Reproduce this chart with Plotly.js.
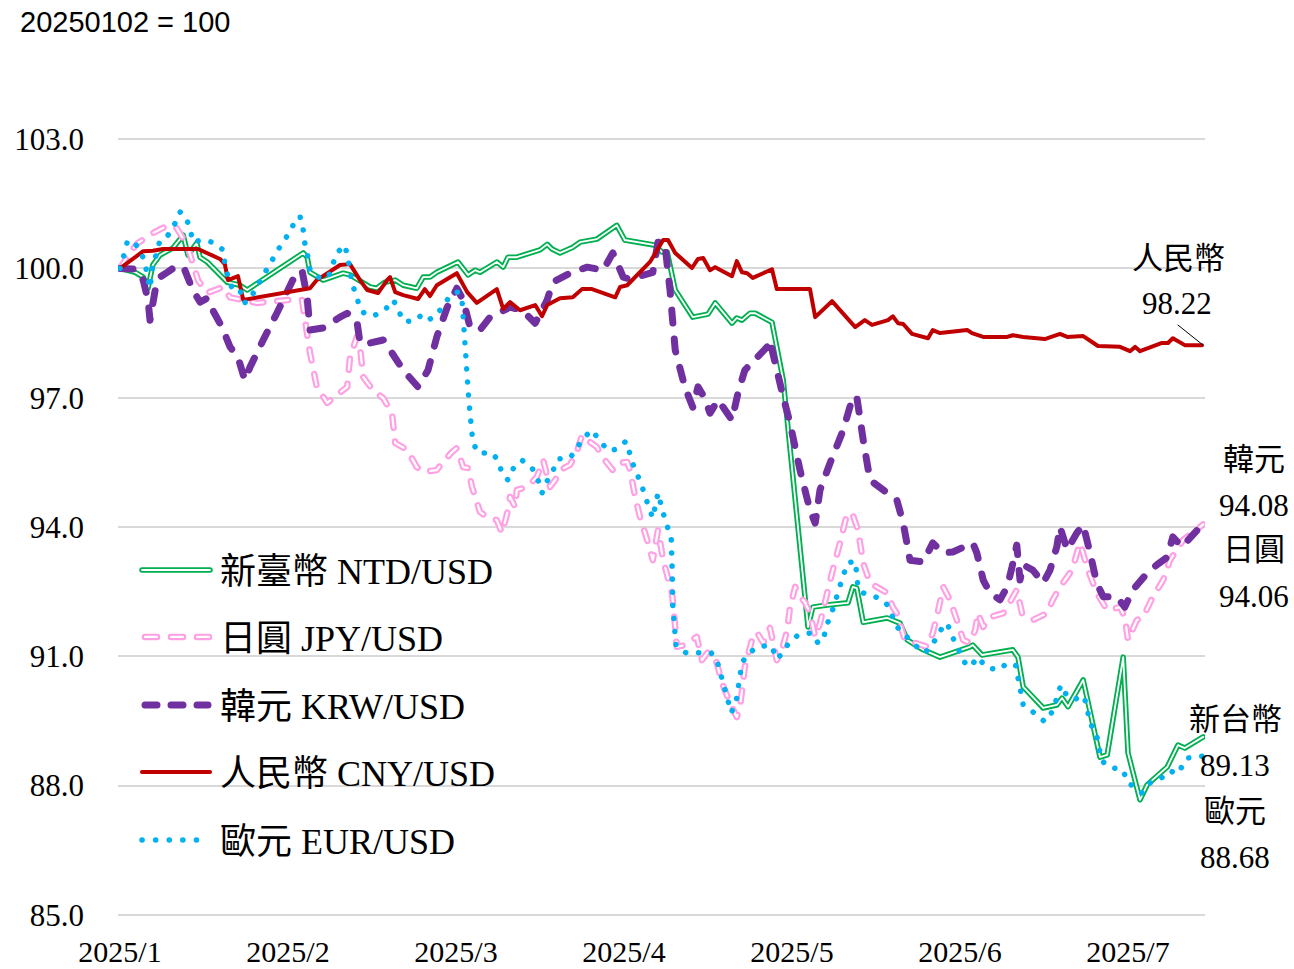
<!DOCTYPE html>
<html><head><meta charset="utf-8">
<script src="https://cdn.plot.ly/plotly-3.0.1.min.js"></script>
<style>
html,body{margin:0;padding:0;background:#fff;}
#chart{width:1294px;height:969px;}
.scatterlayer .js-line{stroke-linecap:round !important;stroke-linejoin:round !important;}
.shapelayer path{stroke-linecap:round !important;}
</style>
</head><body><div id="chart"></div>
<script>
// x = trading-day index (21 per month tick), y = index (20250102 = 100)
const monthTicks = [0, 21, 42, 63, 84, 105, 126];
const monthLabels = ['2025/1','2025/2','2025/3','2025/4','2025/5','2025/6','2025/7'];
const yTicks = [85, 88, 91, 94, 97, 100, 103];

const ntd = [[0,100],[1.9,99.91],[2.9,99.80],[3.5,99.54],[4.1,100.08],[5,100.31],[6.6,100.47],[7.9,100.77],[8.5,100.31],[9.6,100.59],[10,100.26],[10.9,100.15],[13.4,99.68],[15,99.61],[15.9,99.50],[22.9,100.36],[23.4,100.26],[23.75,99.91],[25.4,99.73],[27.9,99.89],[28.75,99.85],[31.25,99.57],[32.1,99.54],[33.1,99.68],[34.4,99.73],[35.4,99.61],[37.1,99.54],[37.9,99.80],[38.75,99.80],[39.6,99.91],[42.25,100.15],[43.5,99.85],[44.4,99.96],[45,99.91],[47.1,100.15],[47.9,100.03],[48.5,100.26],[49.6,100.26],[51.6,100.38],[52.5,100.43],[53.4,100.56],[54,100.45],[55,100.36],[56.6,100.49],[57.5,100.61],[59.6,100.68],[62.1,101.0],[63.1,100.66],[66.9,100.54],[67.75,100.38],[68.4,100.38],[69.4,99.50],[71.6,98.87],[73.5,98.94],[74.4,99.20],[76.5,98.73],[77.1,98.85],[77.75,98.80],[78.75,98.96],[79.4,98.96],[81.5,98.75],[82.9,97.41],[86,91.68],[86.6,92.14],[88.4,92.19],[91,92.24],[91.6,92.61],[92.1,92.58],[92.9,91.79],[95.9,91.89],[97.5,91.77],[98.4,91.38],[100.4,91.15],[102.5,90.98],[106.25,91.22],[106.6,91.26],[107.75,91.03],[111.6,91.15],[112.25,90.98],[112.9,90.29],[115.4,89.80],[117.1,89.87],[117.75,90.03],[118.5,89.83],[120.4,90.45],[122.5,88.66],[123.4,88.71],[125.4,90.98],[126,88.76],[127.5,87.67],[128.4,88.02],[130.9,88.43],[132.25,88.94],[133.1,88.87],[135.4,89.13]];

const jpy = [[0,100],[1.25,100.38],[2.25,100.59],[4.1,100.82],[6,101.0],[7.1,100.93],[8.4,100.54],[9.1,100.12],[9.75,99.73],[10.9,99.43],[12.9,99.57],[13.75,99.33],[17.1,99.20],[21.25,99.27],[22.75,99.27],[23.75,98.04],[24.6,97.25],[25.9,96.88],[27.1,97.06],[28.4,97.25],[28.75,97.94],[29.6,98.41],[30,98.18],[30.4,97.48],[31.6,97.18],[32.9,96.99],[34,96.64],[34.4,95.95],[35.9,95.79],[37.1,95.39],[37.9,95.28],[39.6,95.32],[40.25,95.48],[41.5,95.74],[42.1,95.83],[42.9,95.39],[43.5,95.37],[44,94.93],[44.4,94.70],[45,94.35],[45.9,94.23],[47.1,94.16],[47.75,93.86],[48.4,94.32],[48.75,94.70],[49.4,94.46],[49.6,94.86],[50.9,94.93],[52.1,95.16],[52.9,95.55],[53.75,94.93],[54.4,95.09],[55,95.32],[56.25,95.44],[57.1,95.74],[57.75,96.13],[58.75,95.97],[59.6,95.86],[60.4,95.60],[61.6,95.32],[62.25,95.48],[63.4,95.51],[63.75,95.32],[64.4,94.70],[65,94.23],[65.9,93.70],[66.6,93.23],[67.25,93.93],[67.9,93.23],[69,92.47],[69.4,91.68],[69.6,91.22],[70.6,91.26],[72.1,91.45],[72.75,90.91],[73.5,91.10],[74.6,90.85],[75.25,90.38],[76.25,89.92],[77.1,89.59],[77.5,89.82],[78.1,90.75],[79,91.38],[79.6,91.56],[80.4,91.31],[81.25,91.66],[82.1,90.91],[82.75,91.15],[83.4,91.61],[83.75,92.14],[84.4,92.61],[85,92.38],[85.6,92.26],[86.25,92.0],[86.9,91.45],[87.5,91.77],[88.4,92.47],[89.1,93.0],[90,93.63],[90.9,94.32],[91.6,94.28],[92.25,93.93],[92.9,93.16],[93.75,92.70],[95.9,92.47],[96.6,92.14],[97.1,92.0],[98.1,91.38],[99.4,91.31],[100.9,91.22],[101.6,91.54],[102.1,91.91],[102.9,92.61],[103.75,92.31],[104.6,91.84],[105.4,91.38],[106.25,91.31],[106.9,91.61],[107.25,92.0],[107.9,91.68],[108.75,91.91],[110.4,92.0],[111.25,92.26],[112.1,92.54],[112.75,92.0],[114.1,91.84],[115.9,92.0],[116.6,92.31],[117.5,92.61],[118.4,92.84],[119,93.0],[120,93.63],[121,93.0],[122.1,92.47],[123.4,92.07],[125,92.14],[125.6,91.91],[126,91.38],[127.1,91.84],[127.9,91.91],[129.1,92.38],[130.4,92.77],[131.25,93.23],[132.1,93.47],[132.9,93.70],[135.4,94.06]];

const krw = [[0,100],[2.1,99.98],[2.9,99.73],[3.5,99.27],[3.75,98.80],[4.4,99.50],[5,99.80],[5.9,99.91],[7.25,100.08],[8.1,99.96],[9.1,99.50],[10,99.22],[10.9,99.31],[11.6,99.03],[12.75,98.64],[13.75,98.18],[14.75,97.94],[15.6,97.41],[16.25,97.71],[17.9,98.34],[19.6,98.96],[21.6,99.73],[22.75,99.96],[23.4,99.33],[23.75,98.57],[25.4,98.62],[27.5,98.87],[28.4,98.96],[29.6,98.80],[30,98.27],[31.25,98.27],[32.9,98.34],[33.75,98.11],[35.4,97.64],[37.25,97.25],[38.5,97.64],[39.6,98.41],[40.9,99.10],[42.1,99.54],[42.9,99.27],[43.75,98.64],[45,98.57],[46.25,98.87],[48.75,99.10],[50.25,99.03],[51.9,98.73],[53.4,99.27],[54.1,99.68],[56.25,99.89],[58.4,100.03],[60.4,99.96],[61.6,100.36],[62.9,99.80],[63.75,99.75],[66.6,99.91],[67.25,100.61],[68.1,100.59],[68.75,99.50],[69.4,98.11],[70.6,97.25],[71.6,96.78],[72.25,97.25],[73.1,96.99],[73.75,96.64],[74.75,96.95],[76.5,96.48],[77.25,97.11],[78.1,97.64],[80.9,98.18],[81.25,98.34],[81.6,98.04],[82.9,97.02],[83.75,96.41],[85,95.32],[86.25,94.39],[86.9,94.09],[87.5,94.86],[88.75,95.48],[90.4,96.25],[91.6,97.02],[92.1,97.02],[92.9,96.02],[93.75,95.09],[95.9,94.79],[97.1,94.63],[97.9,94.09],[98.75,93.23],[100.4,93.19],[101.6,93.63],[102.9,93.40],[104.1,93.42],[106.6,93.63],[107.1,93.40],[107.9,92.77],[108.75,92.47],[110,92.31],[110.9,92.61],[111.5,93.07],[112.1,93.58],[112.5,92.77],[112.9,93.12],[114.1,93.0],[115.4,92.70],[116.25,93.0],[117.1,93.54],[117.5,94.0],[118.4,93.47],[119.6,93.86],[120.4,94.05],[121.25,93.40],[122.1,92.70],[122.9,92.38],[124.6,92.38],[125.6,92.14],[126.6,92.54],[128.4,92.93],[129.6,93.12],[130.9,93.30],[131.6,93.77],[132.75,93.54],[135.4,94.08]];

const cny = [[0,100],[2.9,100.40],[4.1,100.41],[5.4,100.45],[9.75,100.45],[12.5,100.22],[13.1,100.10],[13.5,99.73],[14.75,99.82],[15.4,99.27],[23.75,99.54],[24.6,99.73],[27.5,100.08],[28.75,100.10],[30,99.73],[30.9,99.50],[32.25,99.43],[33.4,99.73],[33.75,99.80],[34.4,99.45],[35.4,99.38],[37.25,99.29],[38.1,99.52],[38.75,99.36],[39.6,99.61],[42.1,99.89],[43.4,99.45],[44.6,99.20],[47.1,99.52],[47.9,99.06],[48.75,99.22],[50,99.03],[51.9,99.15],[52.75,98.89],[53.4,99.15],[55,99.31],[56.6,99.33],[57.75,99.52],[59,99.52],[61.9,99.33],[62.5,99.57],[63.4,99.61],[66.25,100.15],[67.9,100.66],[68.5,100.66],[69.4,100.36],[71.5,100.01],[72.25,100.22],[72.9,100.24],[73.75,99.96],[74.4,100.03],[76.5,99.82],[77.1,100.17],[77.75,99.91],[78.4,99.89],[79.1,99.78],[81.5,99.98],[82.1,99.52],[86.25,99.52],[86.9,98.87],[89,99.24],[91.9,98.64],[93.1,98.80],[94,98.69],[96,98.80],[96.6,98.89],[97.25,98.73],[97.9,98.71],[99,98.48],[101,98.38],[101.6,98.57],[102.5,98.50],[105.9,98.57],[106.5,98.50],[107.9,98.41],[110.9,98.41],[111.6,98.45],[112.9,98.41],[115.6,98.36],[117.5,98.48],[118.4,98.41],[120.4,98.43],[122.25,98.20],[125,98.18],[126.25,98.08],[126.9,98.18],[127.5,98.08],[130.25,98.27],[131,98.27],[131.6,98.38],[133.1,98.22],[135.25,98.22]];

const eur = [[0,100],[0.5,100.31],[0.9,100.61],[1.5,100.66],[2.5,100.43],[3.1,100.15],[3.4,99.85],[3.75,99.54],[4.1,100.08],[4.6,100.36],[5,100.66],[6,100.77],[6.9,101.05],[7.5,101.31],[8.1,101.24],[8.75,100.94],[9.1,100.61],[10.25,100.66],[11.5,100.61],[12.9,100.43],[13.1,100.12],[13.5,99.80],[14.1,99.50],[15,99.50],[15.4,99.20],[16,99.22],[16.9,99.50],[17.75,99.78],[18.5,100.03],[19.4,100.31],[20.25,100.59],[21.25,100.84],[21.9,101.12],[22.5,101.21],[22.9,100.89],[23.1,100.59],[23.5,100.26],[23.75,99.96],[24.6,99.80],[26,99.78],[27.1,100.36],[28.1,100.54],[28.5,100.24],[28.75,99.91],[29.1,99.61],[29.6,99.31],[30.25,98.99],[31.6,98.89],[33.1,99.03],[34.1,99.27],[34.75,99.10],[35.25,98.80],[36.5,98.76],[37.75,98.92],[38.5,98.80],[39.6,98.92],[40.6,99.20],[41.6,99.43],[42.25,99.45],[42.75,99.27],[43.6,96.95],[44.1,95.97],[44.75,95.72],[46.5,95.72],[47.25,95.55],[47.75,95.25],[48.5,95.09],[49.25,95.39],[50.25,95.55],[51.5,95.37],[52.25,95.09],[52.75,94.79],[53.25,95.02],[54.1,95.30],[54.75,95.58],[56.25,95.60],[57.1,95.83],[57.9,96.06],[59,96.25],[60,95.99],[61.1,95.76],[62.1,95.81],[63.25,95.99],[63.75,95.69],[64.25,95.39],[64.9,95.11],[65.5,94.81],[66,94.51],[66.6,94.21],[67.25,94.79],[67.9,94.32],[68.4,94.02],[68.9,93.77],[69,93.12],[69.1,92.17],[69.5,91.24],[70.75,91.08],[72.75,91.08],[73.9,91.08],[74.6,90.91],[75.5,90.31],[76.4,89.69],[77,89.92],[77.5,90.55],[77.75,90.85],[78.6,91.08],[80,91.24],[81.5,91.24],[82,90.94],[82.75,91.05],[83.6,91.31],[84.75,91.49],[86.4,91.54],[87.25,91.31],[87.9,91.36],[88.25,91.68],[88.9,91.98],[89.4,92.26],[89.9,92.58],[90.4,92.86],[90.9,93.16],[91.9,93.21],[92.1,92.89],[92.25,92.58],[92.9,92.47],[94.25,92.40],[95.75,92.24],[96.6,91.91],[97.25,91.66],[98.25,91.47],[99.1,91.31],[100.4,91.08],[101.25,91.17],[102.1,91.45],[102.9,91.70],[103.4,91.77],[104,91.47],[104.75,91.19],[105.4,90.89],[106.25,90.75],[107.25,90.98],[108.25,90.75],[109.75,90.68],[111,90.85],[112,90.78],[112.25,90.50],[112.6,90.17],[112.9,89.87],[114.25,89.69],[115.6,89.48],[116.6,89.73],[117.1,90.03],[117.6,90.33],[118.1,90.15],[119.1,89.99],[120.5,90.08],[120.9,89.78],[121.25,89.45],[122,89.22],[122.4,88.90],[122.6,88.60],[123.6,88.43],[125.4,88.36],[125.9,88.08],[126.75,87.97],[127.75,87.83],[128.75,88.06],[130.4,88.20],[131.25,88.22],[131.9,88.46],[132.75,88.41],[133.5,88.64],[135.25,88.68]];

const seriesNames = ['新臺幣 NTD/USD','日圓 JPY/USD','韓元 KRW/USD','人民幣 CNY/USD','歐元 EUR/USD'];
const endLabels = [['人民幣','98.22'],['韓元','94.08'],['日圓','94.06'],['新台幣','89.13'],['歐元','88.68']];

const GREEN='#00b050', PINK='#ff9fe4', PURPLE='#7030a0', RED='#c00000', BLUE='#00b0f0';
const SERIF = '"Liberation Serif","Times New Roman","Noto Sans CJK TC",serif';

function tr(pts, color, width, dash){
  return {x: pts.map(p=>p[0]), y: pts.map(p=>p[1]), type:'scatter', mode:'lines',
    line:{color:color, width:width, dash:dash||'solid', simplify:false},
    hoverinfo:'skip', showlegend:false};
}
const traces = [
  tr(ntd, GREEN, 5.5), tr(ntd, '#ffffff', 1.8),
  tr(jpy, PINK, 6.5, '11px,14px'), tr(jpy, '#ffffff', 2.2, '11px,14px'),
  tr(krw, PURPLE, 7, '13px,16px'),
  tr(cny, RED, 4),
  tr(eur, BLUE, 5.5, '0.1px,13px')
];

// plot-area pixel geometry
const L=118, R=1205, yMin=84.95, yMax=103.05;
const PXU = 776/18;
const T = 139 - (yMax-103)*PXU, B = 915 + (85-yMin)*PXU;
const px = p => (p-L)/(R-L);
const py = p => (B-p)/(B-T);

const shapes = [];
const annotations = [];
function legLine(y, color, width, dash, x0, x1){
  shapes.push({type:'line', xref:'paper', yref:'paper', x0:px(x0), x1:px(x1), y0:py(y), y1:py(y),
    line:{color:color, width:width, dash:dash||'solid'}});
}
const legY = [570, 637, 705, 772, 840];
legLine(legY[0], GREEN, 5.5, 'solid', 142, 210); legLine(legY[0], '#ffffff', 1.8, 'solid', 142, 210);
legLine(legY[1], PINK, 6.5, '12px,14px', 145, 209); legLine(legY[1], '#ffffff', 2.2, '12px,14px', 145, 209);
legLine(legY[2], PURPLE, 7, '12px,14px', 145, 208);
legLine(legY[3], RED, 4, 'solid', 142, 210);
legLine(legY[4], BLUE, 5.5, '0.1px,13.5px', 142, 197);
seriesNames.forEach((n,i)=>{
  annotations.push({xref:'paper', yref:'paper', x:px(218), y:py(legY[i]+2), xanchor:'left', yanchor:'middle',
    text:n, showarrow:false, font:{family:SERIF, size:36, color:'#000'}});
});
// end labels
const endPos = [[1178,258,1177,303],[1254,459,1254,505],[1254,550,1254,597],[1235,720,1235,766],[1235,812,1235,858]];
endLabels.forEach((lab,i)=>{
  const p = endPos[i];
  annotations.push({xref:'paper', yref:'paper', x:px(p[0]), y:py(p[1]), xanchor:'center', yanchor:'middle',
    text:lab[0], showarrow:false, font:{family:SERIF, size:31, color:'#000'}});
  annotations.push({xref:'paper', yref:'paper', x:px(p[2]), y:py(p[3]), xanchor:'center', yanchor:'middle',
    text:lab[1], showarrow:false, font:{family:SERIF, size:31, color:'#000'}});
});
shapes.push({type:'line', xref:'paper', yref:'paper', x0:px(1178), y0:py(325), x1:px(1203), y1:py(345),
  line:{color:'#000', width:1}});
// unit title
annotations.push({xref:'paper', yref:'paper', x:px(18), y:py(22), xanchor:'left', yanchor:'middle',
  text:'20250102 = 100', showarrow:false, font:{family:'"Liberation Sans","Noto Sans",sans-serif', size:29, color:'#000'}});

const layout = {
  width:1294, height:969,
  margin:{l:L, r:1294-R, t:T, b:969-B, pad:0},
  paper_bgcolor:'#fff', plot_bgcolor:'#fff',
  showlegend:false,
  xaxis:{range:[-0.25, 135.625], tickvals:monthTicks, ticktext:monthLabels, showgrid:false, zeroline:false,
    showline:false, ticks:'', ticklabelstandoff:14, tickfont:{family:SERIF, size:30, color:'#000'}, fixedrange:true},
  yaxis:{range:[yMin, yMax], tickvals:yTicks, tickformat:'.1f', showgrid:true, gridcolor:'#d9d9d9', gridwidth:2,
    zeroline:false, showline:false, ticks:'', ticklabelstandoff:33, tickfont:{family:SERIF, size:31, color:'#000'}, fixedrange:true},
  shapes:shapes, annotations:annotations
};
Plotly.newPlot('chart', traces, layout, {staticPlot:true, displayModeBar:false});
</script>
</body></html>
